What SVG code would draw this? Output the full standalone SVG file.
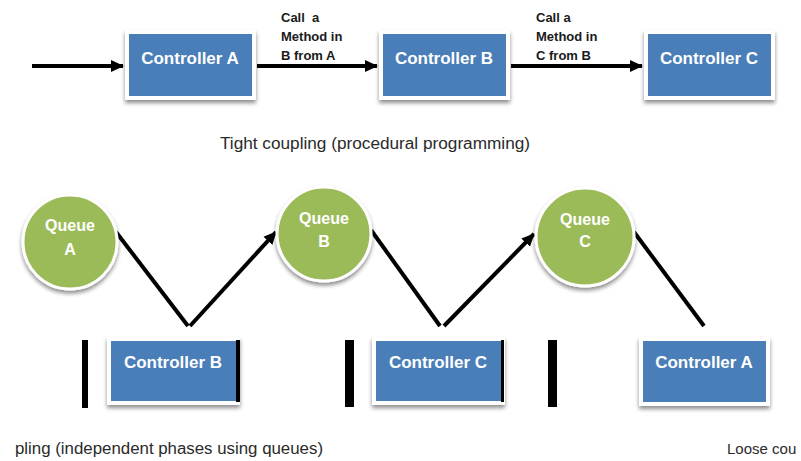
<svg xmlns="http://www.w3.org/2000/svg" width="801" height="461" viewBox="0 0 801 461">
  <defs>
    <filter id="shadow" x="-20%" y="-20%" width="140%" height="150%">
      <feGaussianBlur in="SourceAlpha" stdDeviation="2"/>
      <feOffset dx="0" dy="3" result="b"/>
      <feComponentTransfer><feFuncA type="linear" slope="0.45"/></feComponentTransfer>
      <feMerge><feMergeNode/><feMergeNode in="SourceGraphic"/></feMerge>
    </filter>
    <marker id="arrow" markerUnits="userSpaceOnUse" markerWidth="14" markerHeight="14" refX="12" refY="7" orient="auto">
      <path d="M0,1 L13,7 L0,13 z" fill="#000"/>
    </marker>
    <style>
      .box { fill: #4a7eb8; stroke: #ffffff; stroke-width: 4; filter: url(#shadow); }
      .queue { fill: #9bbb59; stroke: #ffffff; stroke-width: 3; filter: url(#shadow); }
      .ctext { font-family: "Liberation Sans", Arial, sans-serif; font-weight: bold; font-size: 17px; fill: #ffffff; text-anchor: middle; }
      .qtext { font-family: "Liberation Sans", Arial, sans-serif; font-weight: bold; font-size: 16px; fill: #ffffff; text-anchor: middle; }
      .lbl { font-family: "Liberation Sans", Arial, sans-serif; font-weight: bold; font-size: 13px; fill: #1a1a1a; white-space: pre; }
      .cap { font-family: "Liberation Sans", Arial, sans-serif; font-size: 16px; fill: #2a2a2a; }
      .conn { stroke: #000; stroke-width: 4; fill: none; }
      .bar { fill: #000; }
    </style>
  </defs>
  <rect width="801" height="461" fill="#ffffff"/>

  <!-- Tight coupling row -->
  <g id="top-controller-a">
    <rect class="box" x="127" y="32" width="127" height="66"/>
    <text class="ctext" x="190" y="64">Controller A</text>
  </g>
  <g id="top-controller-b">
    <rect class="box" x="381" y="32" width="127" height="66"/>
    <text class="ctext" x="444" y="64">Controller B</text>
  </g>
  <g id="top-controller-c">
    <rect class="box" x="646" y="32" width="127" height="66"/>
    <text class="ctext" x="709" y="64">Controller C</text>
  </g>

  <g id="top-connectors">
    <line class="conn" x1="32" y1="66" x2="123" y2="66" marker-end="url(#arrow)"/>
    <line class="conn" x1="257" y1="66" x2="377" y2="66" marker-end="url(#arrow)"/>
    <line class="conn" x1="511" y1="66" x2="642" y2="66" marker-end="url(#arrow)"/>
    <text class="lbl" x="281" y="22">Call  a</text>
    <text class="lbl" x="281" y="41">Method in</text>
    <text class="lbl" x="281" y="60">B from A</text>
    <text class="lbl" x="536" y="22">Call a</text>
    <text class="lbl" x="536" y="41">Method in</text>
    <text class="lbl" x="536" y="60">C from B</text>
  </g>

  <text class="cap" x="220" y="149" textLength="310" lengthAdjust="spacingAndGlyphs">Tight coupling (procedural programming)</text>

  <!-- Loose coupling row -->
  <g id="loose-connectors">
    <line class="conn" x1="116" y1="232" x2="188" y2="326"/>
    <line class="conn" x1="190" y1="326" x2="276" y2="232" marker-end="url(#arrow)"/>
    <line class="conn" x1="371" y1="230" x2="440" y2="326"/>
    <line class="conn" x1="444" y1="326" x2="534" y2="234" marker-end="url(#arrow)"/>
    <line class="conn" x1="634" y1="232" x2="704" y2="326"/>
  </g>

  <g id="queue-a">
    <circle class="queue" cx="70" cy="242" r="47"/>
    <text class="qtext" x="70" y="231">Queue</text>
    <text class="qtext" x="70" y="255">A</text>
  </g>
  <g id="queue-b">
    <circle class="queue" cx="324" cy="234" r="47"/>
    <text class="qtext" x="324" y="224">Queue</text>
    <text class="qtext" x="324" y="247">B</text>
  </g>
  <g id="queue-c">
    <circle class="queue" cx="585" cy="237" r="49"/>
    <text class="qtext" x="585" y="225">Queue</text>
    <text class="qtext" x="585" y="247">C</text>
  </g>

  <g id="bottom-controller-b">
    <rect class="box" x="109" y="339" width="129" height="64"/>
    <text class="ctext" x="173" y="368">Controller B</text>
  </g>
  <g id="bottom-controller-c">
    <rect class="box" x="374" y="339" width="129" height="64"/>
    <text class="ctext" x="438" y="368">Controller C</text>
  </g>
  <g id="bottom-controller-a">
    <rect class="box" x="641" y="339" width="127" height="65"/>
    <text class="ctext" x="704" y="368">Controller A</text>
  </g>

  <g id="bars">
    <rect class="bar" x="82" y="340" width="6" height="68"/>
    <rect class="bar" x="236" y="340" width="4" height="62"/>
    <rect class="bar" x="345" y="340" width="9" height="67"/>
    <rect class="bar" x="501" y="340" width="3" height="62"/>
    <rect class="bar" x="548" y="340" width="9" height="67"/>
  </g>

  <text class="cap" x="15" y="454" textLength="308" lengthAdjust="spacingAndGlyphs">pling (independent phases using queues)</text>
  <text class="cap" x="727" y="454" style="font-size:15px">Loose cou</text>
</svg>
